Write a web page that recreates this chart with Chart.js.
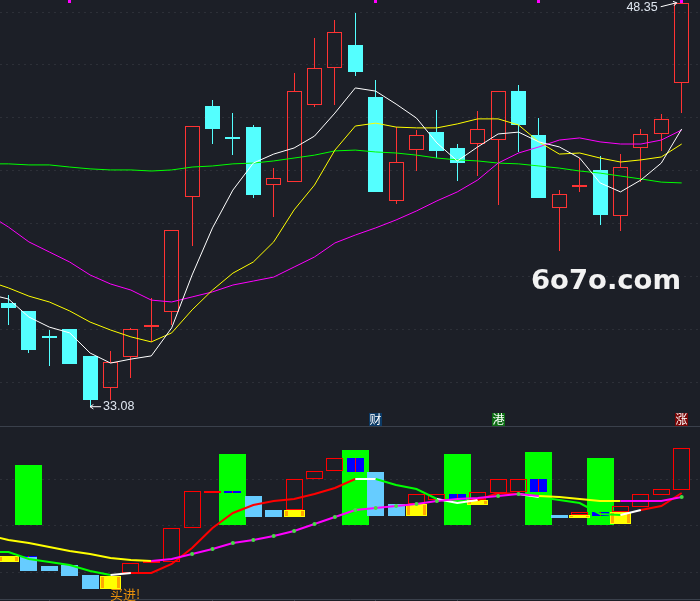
<!DOCTYPE html>
<html>
<head>
<meta charset="utf-8">
<title>K-line</title>
<script src="https://cdn.jsdelivr.net/npm/chart.js@4/dist/chart.umd.min.js"></script>
<style>
  html, body { margin: 0; padding: 0; background: #1c1f27; overflow: hidden; }
  canvas { display: block; }
</style>
</head>
<body>
<canvas id="priceChart" width="700" height="426"></canvas>
<canvas id="signalChart" width="700" height="175"></canvas>
<script>
// upper panel: daily candles
const opens  = [37.00,36.70,35.75,36.02,35.00,33.79,34.96,36.09,36.66,41.01,44.45,43.28,43.65,41.46,41.57,44.48,45.88,46.75,44.79,40.86,42.78,43.46,42.86,43.01,43.16,45.01,43.35,40.59,41.39,42.03,40.29,42.86,43.39,45.32];
const closes = [36.81,35.22,35.68,34.69,33.33,34.77,36.02,36.17,39.76,43.69,43.58,43.20,41.08,41.73,45.01,45.88,47.24,45.73,41.20,42.33,43.35,42.75,42.29,43.58,45.01,43.73,40.97,41.12,41.46,40.33,42.14,43.39,43.96,48.35];
const highs  = [37.30,36.70,35.98,36.02,35.00,35.19,36.06,37.19,39.76,43.69,44.67,44.18,43.73,42.10,45.69,47.02,47.70,47.96,45.43,43.65,43.54,44.30,43.01,44.26,45.01,45.24,43.99,41.27,42.48,42.56,42.63,43.58,44.14,48.35];
const lows   = [36.17,35.11,34.62,34.69,33.08,33.33,34.17,35.53,36.17,39.15,43.01,42.59,40.97,40.25,41.57,44.41,44.48,45.58,41.20,40.74,41.99,42.48,41.61,41.80,40.70,42.71,40.97,38.97,41.20,39.95,39.72,41.57,42.75,44.18];

// moving averages, first value is the day before the visible window
const ma5  = [37.34,37.15,36.47,36.09,35.87,35.11,34.73,34.88,35.00,36.06,38.06,39.84,41.27,42.29,42.63,42.86,43.31,44.18,45.13,45.01,44.52,43.99,43.05,42.37,42.90,43.39,43.46,43.09,42.90,42.48,41.54,41.20,41.65,42.29,43.58];
const ma10 = [37.83,37.57,37.26,37.04,36.70,36.28,35.98,35.72,35.53,35.87,36.74,37.49,38.13,38.55,39.31,40.52,41.46,42.78,43.69,43.80,43.65,43.62,43.62,43.77,43.96,43.96,43.73,43.09,42.63,42.67,42.48,42.33,42.41,42.52,43.01];
const ma20 = [40.36,39.87,39.31,38.93,38.55,38.06,37.72,37.49,37.11,37.04,37.23,37.42,37.68,37.83,37.98,38.36,38.74,39.27,39.57,39.84,40.14,40.48,40.86,41.20,41.65,42.29,42.67,42.90,43.16,43.24,43.09,43.01,43.01,43.16,43.54];
const ma60 = [42.26,42.26,42.22,42.22,42.14,42.07,42.03,42.03,41.99,42.03,42.14,42.18,42.26,42.29,42.37,42.48,42.59,42.75,42.78,42.71,42.67,42.59,42.48,42.41,42.37,42.29,42.26,42.18,42.10,41.99,41.91,41.80,41.69,41.57,41.54];

const priceTicks = [34, 36, 38, 40, 42, 44, 46, 48];
const markDays = [3, 18, 26, 33];
const badgeDays = [18, 24, 33];
const badgeTexts = ["财", "港", "涨"];

// lower panel
const signalTicks = [20, 0, -20];
const dateTicks = [4, 8, 12, 16, 20];

const greenDays = [1, 11, 17, 22, 26, 29];
const greenTops = [26.2, 31.0, 32.7, 31.0, 31.8, 29.2];

const blueDays = [1, 11, 17, 22, 26, 29];
const blueHigh = [-12.9, 15.05, 29.2, 13.8, 20.2, 6.0];
const blueLow  = [-13.3, 14.2, 23.2, 11.2, 14.6, 4.3];

const skyDays = [1, 2, 3, 4, 12, 13, 18, 19, 27];
const skyHigh = [-13.3, -17.2, -16.8, -21.1, 12.9, 6.9, 23.2, 9.5, 4.7];
const skyLow  = [-19.4, -19.4, -21.5, -27.1, 3.9, 3.9, 4.3, 4.3, 3.4];

const goldDays = [0, 5, 14, 20, 23, 28, 30];
const goldHigh = [-12.9, -21.5, 6.9, 9.5, 11.2, 4.7, 6.0];
const goldLow  = [-15.5, -27.1, 3.9, 4.3, 9.0, 3.4, 0.9];

const redDays = [6, 7, 8, 9, 10, 14, 15, 16, 20, 21, 23, 24, 25, 28, 30, 31, 32, 33];
const redHigh = [-15.9, -15.05, -0.9, 15.05, 15.05, 20.2, 23.65, 29.2, 13.8, 13.8, 14.6, 20.2, 20.2, 6.0, 8.6, 13.8, 15.9, 33.5];
const redLow  = [-20.2, -15.9, -15.5, -0.9, 14.2, 6.9, 20.2, 23.65, 9.5, 11.2, 11.2, 14.2, 14.6, 4.7, 6.0, 8.2, 13.3, 15.5];

const slowLine = [-3.87,-6.02,-7.31,-9.03,-10.75,-12.04,-13.76,-14.62,-15.05,-14.19,-12.04,-9.89,-7.31,-6.02,-4.30,-2.15,0.86,3.87,6.88,7.74,8.60,9.46,10.75,11.61,12.04,12.90,13.76,12.90,12.47,11.61,10.75,10.75,10.75,10.75,12.47];
const fastLine = [-11.18,-11.18,-14.19,-15.48,-16.77,-19.35,-21.07,-20.21,-20.21,-16.34,-9.46,-0.86,5.59,9.03,10.75,11.61,13.76,16.34,20.21,20.21,17.63,15.91,11.61,9.89,11.18,14.19,13.76,12.47,11.18,9.89,5.16,4.73,6.88,8.60,14.19];
const dotDays = [9, 10, 11, 12, 13, 14, 15, 16, 17, 18, 19, 20, 21, 24, 25, 33];

const CYAN = "#54ffff";
const RED = "#ff3333";
const GRID = "#2d3038";
const FRAME = "#3a404b";

const days = opens.map((_, i) => i);
const xRange = { min: -0.4167, max: 33.897 };

function lineData(values) {
    return values.map((v, i) => ({ x: i - 1, y: v }));
}

function floatData(dayList, high, low) {
    return dayList.map((d, i) => ({ x: d, y: [low[i], high[i]] }));
}

function bars(data, width, color, border, order) {
    return {
        type: "bar",
        data,
        order,
        barThickness: width,
        grouped: false,
        inflateAmount: 0,
        backgroundColor: color,
        borderColor: border || color,
        borderWidth: border ? 1 : 0,
        borderSkipped: false
    };
}

function line(values, color, width, order) {
    return {
        type: "line",
        data: lineData(values),
        order,
        borderColor: color,
        borderWidth: width,
        pointRadius: 0,
        tension: 0,
        fill: false
    };
}

// keep the boxes on whole pixels, the reference is not antialiased
const snapBars = {
    id: "snapBars",
    beforeDatasetsDraw(chart) {
        chart.getSortedVisibleDatasetMetas().forEach(meta => {
            if (meta.type !== "bar") return;
            meta.data.forEach(el => {
                el.x = Math.floor(el.x) + 0.5;
                el.y = Math.round(el.y);
                el.base = Math.round(el.base);
            });
        });
    }
};

function arrow(ctx, x1, y1, x2, y2) {
    const a = Math.atan2(y2 - y1, x2 - x1);
    ctx.beginPath();
    ctx.moveTo(x1, y1);
    ctx.lineTo(x2, y2);
    ctx.moveTo(x2 - 4 * Math.cos(a - 0.6), y2 - 4 * Math.sin(a - 0.6));
    ctx.lineTo(x2, y2);
    ctx.lineTo(x2 - 4 * Math.cos(a + 0.6), y2 - 4 * Math.sin(a + 0.6));
    ctx.stroke();
}

const priceLabels = {
    id: "priceLabels",
    afterDatasetsDraw(chart) {
        const { ctx, scales: { x, y } } = chart;
        const hi = Math.max(...highs), lo = Math.min(...lows);
        const hiX = x.getPixelForValue(highs.indexOf(hi));
        const loX = x.getPixelForValue(lows.indexOf(lo));
        const hiY = y.getPixelForValue(hi);
        const loY = y.getPixelForValue(lo);

        ctx.save();
        ctx.fillStyle = "#dfe6f0";
        ctx.strokeStyle = "#ffffff";
        ctx.lineWidth = 1;
        ctx.font = '12.5px "Liberation Sans"';
        ctx.textBaseline = "middle";
        ctx.textAlign = "right";
        ctx.fillText(hi.toFixed(2), hiX - 24, hiY + 5);
        arrow(ctx, hiX - 21, hiY + 4, hiX - 5, hiY);
        ctx.textAlign = "left";
        ctx.fillText(lo.toFixed(2), loX + 13, loY);
        arrow(ctx, loX + 11, loY, loX, loY);

        // stock notice badges over the separator
        ctx.font = '12px "Noto Sans CJK SC"';
        ctx.textAlign = "center";
        const badgeColors = ["#0b3a66", "#0b6b12", "#7a0606"];
        badgeDays.forEach((d, i) => {
            const bx = Math.floor(x.getPixelForValue(d));
            ctx.fillStyle = badgeColors[i];
            ctx.fillRect(bx - 6, 413, 13, 13);
            ctx.fillStyle = "#ffffff";
            ctx.fillText(badgeTexts[i], bx + 0.5, 419.5);
        });

        // site watermark, squeezed to the width it has in the picture
        ctx.fillStyle = "#f2f2f2";
        ctx.font = 'bold 27px "DejaVu Sans"';
        ctx.textAlign = "left";
        ctx.textBaseline = "alphabetic";
        const w = ctx.measureText("6o7o.com").width;
        ctx.translate(531, 289);
        ctx.scale(150 / w, 1);
        ctx.fillText("6o7o.com", 0, 0);
        ctx.restore();
    }
};

new Chart(document.getElementById("priceChart"), {
    type: "bar",
    data: {
        datasets: [
            line(ma5, "#ffffff", 1, 1),
            line(ma10, "#ffff00", 1, 2),
            line(ma20, "#ff00ff", 1, 3),
            line(ma60, "#00ff00", 1, 4),
            bars(days.map(i => ({ x: i, y: [opens[i], closes[i]] })), 15,
                days.map(i => closes[i] >= opens[i] ? "rgba(0,0,0,0)" : CYAN),
                days.map(i => closes[i] >= opens[i] ? RED : CYAN), 5),
            bars(days.map(i => ({ x: i, y: [Math.max(opens[i], closes[i]), highs[i]] })), 1,
                days.map(i => closes[i] >= opens[i] ? RED : CYAN), null, 6),
            bars(days.map(i => ({ x: i, y: [lows[i], Math.min(opens[i], closes[i])] })), 1,
                days.map(i => closes[i] >= opens[i] ? RED : CYAN), null, 6),
            bars(markDays.map(d => ({ x: d, y: [48.34, 48.46] })), 3, "#ff00ff", null, 0)
        ]
    },
    plugins: [snapBars, priceLabels],
    options: {
        responsive: false,
        animation: false,
        devicePixelRatio: 1,
        layout: { padding: 0, autoPadding: false },
        plugins: { legend: { display: false }, tooltip: { enabled: false } },
        scales: {
            x: { type: "linear", display: false, offset: false, min: xRange.min, max: xRange.max },
            y: {
                min: 32.351,
                max: 48.454,
                afterBuildTicks: scale => { scale.ticks = priceTicks.map(value => ({ value })); },
                ticks: { display: false },
                grid: { color: GRID, drawTicks: false },
                border: { display: false, dash: [2, 4] }
            }
        }
    }
});

function fastColor(i) {
    if (i < 5) return "#00ff00";
    if (i < 6) return "#ffffff";
    if (i < 17) return "#ff0000";
    if (i < 18) return "#ffffff";
    if (i < 21) return "#00ff00";
    if (i < 23) return "#ffffff";
    if (i < 25) return "#ff0000";
    if (i < 26) return "#ffffff";
    if (i < 30) return "#00ff00";
    if (i < 31) return "#ffffff";
    return "#ff0000";
}

function slowColor(i) {
    if (i < 7) return "#ffff00";
    if (i < 26) return "#ff00ff";
    if (i < 30) return "#ffff00";
    return "#ff00ff";
}

const signalLabels = {
    id: "signalLabels",
    afterDatasetsDraw(chart) {
        const { ctx, chartArea } = chart;
        ctx.save();
        ctx.fillStyle = FRAME;
        ctx.fillRect(0, 0, chartArea.right, 1);
        ctx.fillStyle = "#e8900c";
        ctx.font = '13px "Noto Sans CJK SC"';
        ctx.textAlign = "left";
        ctx.textBaseline = "middle";
        ctx.fillText("买进!", 110, 168);
        ctx.restore();
    }
};

new Chart(document.getElementById("signalChart"), {
    type: "bar",
    data: {
        datasets: [
            {
                type: "line",
                data: dotDays.map(d => ({ x: d, y: slowLine[d + 1] })),
                order: 0,
                showLine: false,
                pointRadius: 2,
                pointBorderWidth: 0,
                pointBackgroundColor: "#44dd44"
            },
            Object.assign(line(slowLine, "#ff00ff", 2, 1), {
                segment: { borderColor: c => slowColor(c.p0.parsed.x) }
            }),
            Object.assign(line(fastLine, "#ff0000", 2, 2), {
                segment: { borderColor: c => fastColor(c.p0.parsed.x) }
            }),
            bars(blueDays.map((d, i) => ({ x: d, y: [blueLow[i], blueHigh[i]] })), 1, "#ff0000", null, 3),
            bars(floatData(blueDays, blueHigh, blueLow), 17, "#0000ff", null, 4),
            bars(floatData(redDays, redHigh, redLow), 17, "rgba(0,0,0,0)", "#ff0000", 5),
            bars(floatData(goldDays, goldHigh, goldLow), 13, "#ffff00", null, 6),
            bars(floatData(goldDays, goldHigh, goldLow), 21, "#ffa800", "#ffff00", 7),
            bars(floatData(skyDays, skyHigh, skyLow), 17, "#66ccff", null, 8),
            bars(greenDays.map((d, i) => ({ x: d, y: [0.4, greenTops[i]] })), 27, "#00ff00", null, 9)
        ]
    },
    plugins: [snapBars, signalLabels],
    options: {
        responsive: false,
        animation: false,
        devicePixelRatio: 1,
        layout: { padding: 0, autoPadding: false },
        plugins: { legend: { display: false }, tooltip: { enabled: false } },
        scales: {
            x: {
                type: "linear",
                offset: false,
                min: xRange.min,
                max: xRange.max,
                afterBuildTicks: scale => { scale.ticks = dateTicks.map(value => ({ value })); },
                ticks: { display: false },
                grid: { color: FRAME, drawOnChartArea: false, tickLength: 2 },
                border: { color: FRAME }
            },
            y: {
                min: -31.39,
                max: 43.0,
                afterBuildTicks: scale => { scale.ticks = signalTicks.map(value => ({ value })); },
                ticks: { display: false },
                grid: { color: GRID, drawTicks: false },
                border: { display: false, dash: [2, 4] }
            }
        }
    }
});
</script>
</body>
</html>
